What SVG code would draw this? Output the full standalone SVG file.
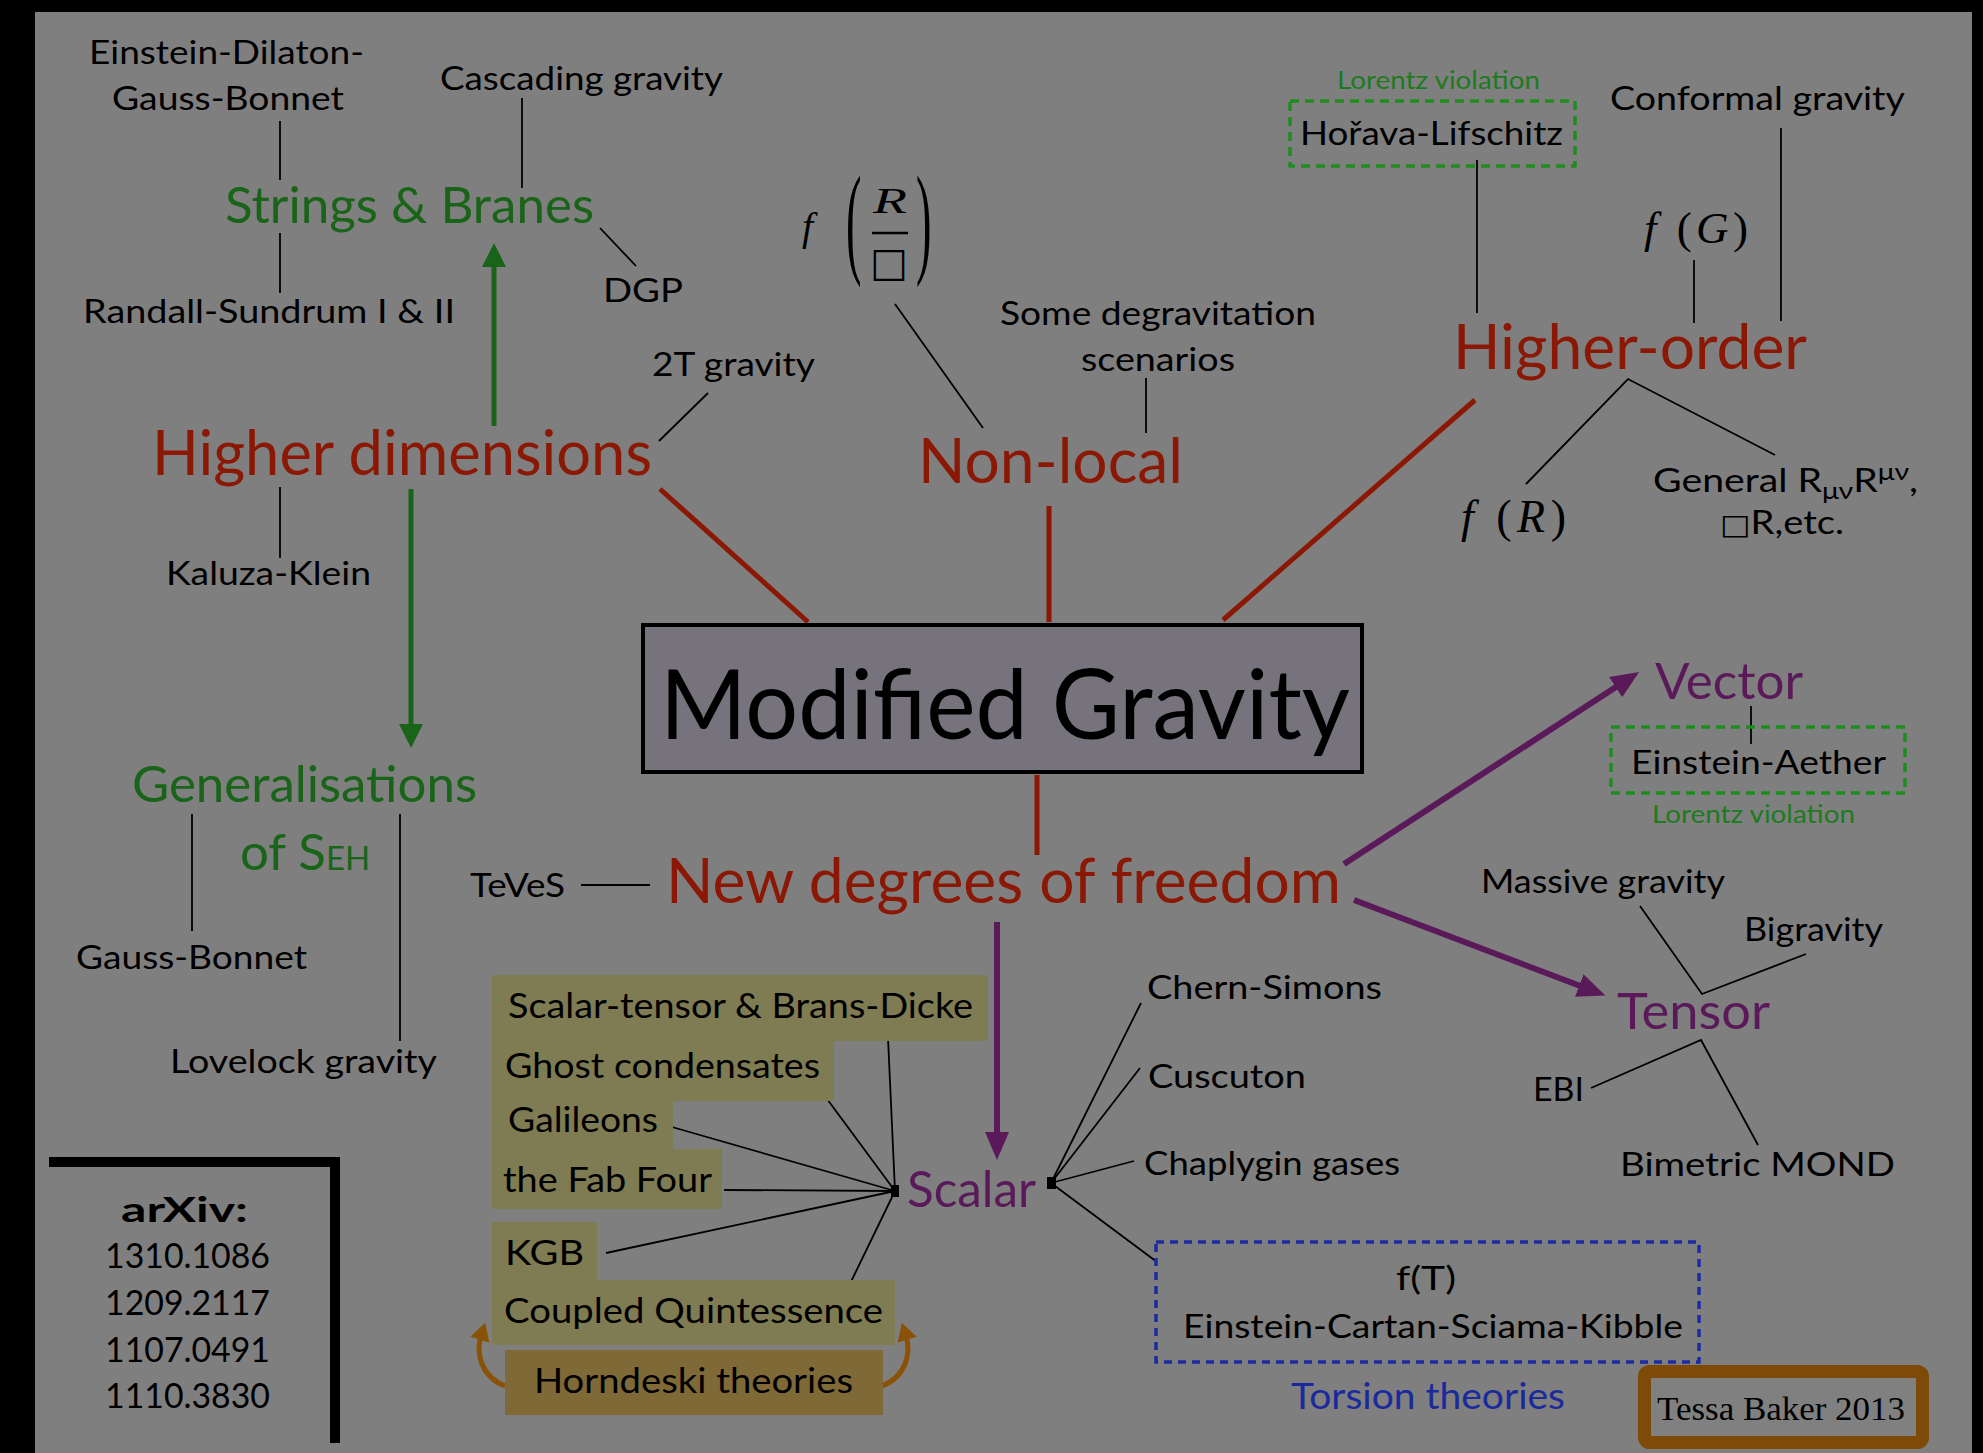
<svg xmlns="http://www.w3.org/2000/svg" width="1983" height="1453" viewBox="0 0 1983 1453">
<style>
.t{font-family:Lato,"Open Sans","DejaVu Sans",sans-serif;fill:#000;font-size:33px}
.o{font-size:35px}
.big{font-size:96px}
.bold{font-size:35px;font-weight:bold}
.red{font-family:Lato,"Open Sans",sans-serif;fill:#8a1804;font-size:61px}
.grn{font-family:Lato,"Open Sans",sans-serif;fill:#1a641a;font-size:51px}
.lv{font-family:Lato,"Open Sans",sans-serif;fill:#1e7a1e;font-size:25px}
.pur{font-family:Lato,"Open Sans",sans-serif;fill:#5a1a5a;font-size:50px}
.m{font-family:"Liberation Serif","DejaVu Serif",serif;fill:#000}
.it{font-style:italic}
.thin{stroke:#000;stroke-width:1.8;fill:none}
.rl{stroke:#8a1804;stroke-width:5;fill:none}
.gl{stroke:#1a641a;stroke-width:5;fill:none}
.pl{stroke:#5a1a5a;stroke-width:6;fill:none}
.ol{stroke:#8a5206;stroke-width:5;fill:none}
.olive{fill:#7f7b52}
.gdash{fill:none;stroke:#1e8c1e;stroke-width:3.5;stroke-dasharray:9 6}
</style>
<defs>
<marker id="ag" markerUnits="userSpaceOnUse" markerWidth="30" markerHeight="30" refX="4" refY="12" orient="auto"><path d="M0,0 L24,12 L0,24 z" fill="#1a641a"/></marker>
<marker id="ap" markerUnits="userSpaceOnUse" markerWidth="32" markerHeight="30" refX="4" refY="12" orient="auto"><path d="M0,0 L28,12 L0,24 z" fill="#5a1a5a"/></marker>
<marker id="ao" markerUnits="userSpaceOnUse" markerWidth="24" markerHeight="24" refX="4" refY="10" orient="auto"><path d="M0,0 L18,10 L0,20 z" fill="#8a5206"/></marker>
</defs>
<rect x="0" y="0" width="1983" height="1453" fill="#000"/>
<rect x="35" y="12" width="1937" height="1441" fill="#7f7f7f"/>

<g id="connectors">
<line class="thin" x1="280" y1="121" x2="280" y2="180"/>
<line class="thin" x1="522" y1="98" x2="522" y2="188"/>
<line class="thin" x1="280" y1="233" x2="280" y2="293"/>
<line class="thin" x1="600" y1="228" x2="636" y2="266"/>
<line class="thin" x1="708" y1="393" x2="659" y2="441"/>
<line class="thin" x1="280" y1="487" x2="280" y2="558"/>
<line class="thin" x1="895" y1="304" x2="983" y2="428"/>
<line class="thin" x1="1146" y1="378" x2="1146" y2="433"/>
<line class="thin" x1="1477" y1="160" x2="1477" y2="313"/>
<line class="thin" x1="1781" y1="128" x2="1781" y2="321"/>
<line class="thin" x1="1694" y1="260" x2="1694" y2="323"/>
<polyline class="thin" points="1526,484 1628,379 1775,455"/>
<line class="thin" x1="1751" y1="706" x2="1751" y2="744"/>
<polyline class="thin" points="1640,906 1702,994 1806,954"/>
<polyline class="thin" points="1591,1088 1701,1040 1758,1145"/>
<line class="thin" x1="192" y1="814" x2="192" y2="931"/>
<line class="thin" x1="400" y1="814" x2="400" y2="1041"/>
<line class="thin" x1="581" y1="885" x2="650" y2="885"/>
<line class="thin" x1="888" y1="1038" x2="895" y2="1191"/>
<line class="thin" x1="816" y1="1084" x2="895" y2="1191"/>
<line class="thin" x1="672" y1="1127" x2="895" y2="1191"/>
<line class="thin" x1="724" y1="1190" x2="895" y2="1191"/>
<line class="thin" x1="606" y1="1253" x2="895" y2="1191"/>
<line class="thin" x1="846" y1="1292" x2="895" y2="1191"/>
<line class="thin" x1="1051" y1="1183" x2="1141" y2="1003"/>
<line class="thin" x1="1051" y1="1183" x2="1140" y2="1068"/>
<line class="thin" x1="1051" y1="1183" x2="1134" y2="1161"/>
<line class="thin" x1="1051" y1="1183" x2="1157" y2="1262"/>
<rect x="891" y="1185" width="8" height="12" fill="#000"/>
<rect x="1047" y="1177" width="9" height="12" fill="#000"/>
<line class="rl" x1="660" y1="489" x2="808" y2="622"/>
<line class="rl" x1="1049" y1="506" x2="1049" y2="622"/>
<line class="rl" x1="1475" y1="400" x2="1223" y2="620"/>
<line class="rl" x1="1037" y1="775" x2="1037" y2="855"/>
<line class="gl" x1="494" y1="426" x2="494" y2="263" marker-end="url(#ag)"/>
<line class="gl" x1="411" y1="489" x2="411" y2="728" marker-end="url(#ag)"/>
<line class="pl" x1="1344" y1="864" x2="1619" y2="685" marker-end="url(#ap)"/>
<line class="pl" x1="1354" y1="900" x2="1583" y2="987" marker-end="url(#ap)"/>
<line class="pl" x1="997" y1="922" x2="997" y2="1136" marker-end="url(#ap)"/>
<path class="ol" d="M505,1386 C480,1376 476,1352 481,1336" marker-end="url(#ao)"/>
<path class="ol" d="M882,1386 C907,1376 911,1352 906,1336" marker-end="url(#ao)"/>
</g>

<g id="edgb"><text class="t" x="89" y="64" textLength="275" lengthAdjust="spacingAndGlyphs">Einstein-Dilaton-</text><text class="t" x="112" y="110" textLength="232" lengthAdjust="spacingAndGlyphs">Gauss-Bonnet</text></g>
<g id="cascading"><text class="t" x="440" y="90" textLength="283" lengthAdjust="spacingAndGlyphs">Cascading gravity</text></g>
<g id="strings"><text class="grn" x="225" y="223" textLength="369" lengthAdjust="spacingAndGlyphs">Strings &amp; Branes</text></g>
<g id="dgp"><text class="t" x="603" y="302" textLength="80" lengthAdjust="spacingAndGlyphs">DGP</text></g>
<g id="randall"><text class="t" x="83" y="323" textLength="372" lengthAdjust="spacingAndGlyphs">Randall-Sundrum I &amp; II</text></g>
<g id="twoT"><text class="t" x="652" y="376" textLength="163" lengthAdjust="spacingAndGlyphs">2T gravity</text></g>
<g id="higherdim"><text class="red" x="152" y="475" textLength="500" lengthAdjust="spacingAndGlyphs">Higher dimensions</text></g>
<g id="kaluza"><text class="t" x="166" y="585" textLength="205" lengthAdjust="spacingAndGlyphs">Kaluza-Klein</text></g>

<g id="fRbox">
<text class="m it" x="802" y="240" font-size="40">f</text>
<text class="m" transform="translate(846,261) scale(0.8,2.1)" font-size="58">(</text>
<text class="m it" x="873" y="213" font-size="36" textLength="34" lengthAdjust="spacingAndGlyphs">R</text>
<line x1="872" y1="233" x2="908" y2="233" stroke="#000" stroke-width="2.5"/>
<text x="870" y="276" font-family="DejaVu Sans,sans-serif" font-size="40">□</text>
<text class="m" transform="translate(916,261) scale(0.8,2.1)" font-size="58">)</text>
</g>
<g id="degrav"><text class="t" x="1000" y="325" textLength="316" lengthAdjust="spacingAndGlyphs">Some degravitation</text><text class="t" x="1081" y="371" textLength="154" lengthAdjust="spacingAndGlyphs">scenarios</text></g>
<g id="nonlocal"><text class="red" x="918" y="483" textLength="265" lengthAdjust="spacingAndGlyphs">Non-local</text></g>

<g id="horava">
<text class="lv" x="1337" y="89" textLength="203" lengthAdjust="spacingAndGlyphs">Lorentz violation</text>
<rect class="gdash" x="1290" y="101" width="285" height="65"/>
<text class="t" x="1300" y="145" textLength="263" lengthAdjust="spacingAndGlyphs">Hořava-Lifschitz</text>
</g>
<g id="conformal"><text class="t" x="1610" y="110" textLength="295" lengthAdjust="spacingAndGlyphs">Conformal gravity</text></g>
<g id="fG"><text class="m" x="1644" y="243" font-size="45" textLength="104" lengthAdjust="spacing"><tspan class="it">f</tspan> (<tspan class="it">G</tspan>)</text></g>
<g id="higherorder"><text class="red" x="1453" y="369" textLength="354" lengthAdjust="spacingAndGlyphs">Higher-order</text></g>
<g id="fR"><text class="m" x="1461" y="532" font-size="46" textLength="105" lengthAdjust="spacing"><tspan class="it">f</tspan> (<tspan class="it">R</tspan>)</text></g>
<g id="general">
<text class="t" x="1653" y="492" textLength="265" lengthAdjust="spacingAndGlyphs">General R<tspan font-size="24" dy="7">μν</tspan><tspan dy="-7">R</tspan><tspan font-size="24" dy="-12">μν</tspan><tspan dy="12">,</tspan></text>
<text class="t" x="1720" y="534" textLength="124" lengthAdjust="spacingAndGlyphs"><tspan font-family="DejaVu Sans,sans-serif" font-size="28">□</tspan>R,etc.</text>
</g>

<g id="modgrav">
<rect x="643" y="625" width="719" height="147" fill="#77737d" stroke="#000" stroke-width="4"/>
<text class="t big" x="660" y="739" textLength="690" lengthAdjust="spacingAndGlyphs">Modified Gravity</text>
</g>
<g id="newdof"><text class="red" x="666" y="903" textLength="675" lengthAdjust="spacingAndGlyphs">New degrees of freedom</text></g>
<g id="teves"><text class="t" x="470" y="897" textLength="95" lengthAdjust="spacingAndGlyphs">TeVeS</text></g>

<g id="generalisations">
<text class="grn" x="132" y="802" textLength="345" lengthAdjust="spacingAndGlyphs">Generalisations</text>
<text class="grn" x="240" y="870">of S<tspan font-size="33">EH</tspan></text>
</g>
<g id="gaussbonnet"><text class="t" x="76" y="969" textLength="231" lengthAdjust="spacingAndGlyphs">Gauss-Bonnet</text></g>
<g id="lovelock"><text class="t" x="170" y="1073" textLength="267" lengthAdjust="spacingAndGlyphs">Lovelock gravity</text></g>

<g id="vector">
<text class="pur" x="1655" y="699" textLength="148" lengthAdjust="spacingAndGlyphs">Vector</text>
</g>
<g id="aether">
<rect class="gdash" x="1611" y="727" width="294" height="66"/>
<text class="t" x="1631" y="774" textLength="255" lengthAdjust="spacingAndGlyphs">Einstein-Aether</text>
<text class="lv" x="1652" y="823" textLength="203" lengthAdjust="spacingAndGlyphs">Lorentz violation</text>
</g>
<g id="massive"><text class="t" x="1481" y="893" textLength="244" lengthAdjust="spacingAndGlyphs">Massive gravity</text></g>
<g id="bigravity"><text class="t" x="1744" y="941" textLength="139" lengthAdjust="spacingAndGlyphs">Bigravity</text></g>
<g id="tensor"><text class="pur" x="1617" y="1029" textLength="153" lengthAdjust="spacingAndGlyphs">Tensor</text></g>
<g id="ebi"><text class="t" x="1533" y="1101" textLength="51" lengthAdjust="spacingAndGlyphs">EBI</text></g>
<g id="mond"><text class="t" x="1620" y="1176" textLength="275" lengthAdjust="spacingAndGlyphs">Bimetric MOND</text></g>

<g id="scalar"><text class="pur" x="907" y="1207" textLength="129" lengthAdjust="spacingAndGlyphs">Scalar</text></g>
<g id="scalartensor"><rect class="olive" x="492" y="975" width="496" height="66"/><text class="t o" x="508" y="1018" textLength="465" lengthAdjust="spacingAndGlyphs">Scalar-tensor &amp; Brans-Dicke</text></g>
<g id="ghost"><rect class="olive" x="492" y="1040" width="342" height="61"/><text class="t o" x="505" y="1078" textLength="315" lengthAdjust="spacingAndGlyphs">Ghost condensates</text></g>
<g id="galileons"><rect class="olive" x="492" y="1100" width="181" height="50"/><text class="t o" x="508" y="1132" textLength="150" lengthAdjust="spacingAndGlyphs">Galileons</text></g>
<g id="fabfour"><rect class="olive" x="492" y="1149" width="230" height="60"/><text class="t o" x="503" y="1192" textLength="209" lengthAdjust="spacingAndGlyphs">the Fab Four</text></g>
<g id="kgb"><rect class="olive" x="492" y="1222" width="105" height="59"/><text class="t o" x="505" y="1265" textLength="79" lengthAdjust="spacingAndGlyphs">KGB</text></g>
<g id="coupled"><rect class="olive" x="492" y="1280" width="403" height="65"/><text class="t o" x="504" y="1323" textLength="379" lengthAdjust="spacingAndGlyphs">Coupled Quintessence</text></g>
<g id="horndeski"><rect x="505" y="1350" width="378" height="65" fill="#7f6937"/><text class="t o" x="534" y="1393" textLength="319" lengthAdjust="spacingAndGlyphs">Horndeski theories</text></g>

<g id="chern"><text class="t" x="1147" y="999" textLength="235" lengthAdjust="spacingAndGlyphs">Chern-Simons</text></g>
<g id="cuscuton"><text class="t" x="1148" y="1088" textLength="158" lengthAdjust="spacingAndGlyphs">Cuscuton</text></g>
<g id="chaplygin"><text class="t" x="1144" y="1175" textLength="256" lengthAdjust="spacingAndGlyphs">Chaplygin gases</text></g>
<g id="torsion">
<rect x="1156" y="1242" width="543" height="120" fill="none" stroke="#1c2ca0" stroke-width="3.5" stroke-dasharray="8 6"/>
<text class="t" x="1396" y="1290" textLength="60" lengthAdjust="spacingAndGlyphs">f(T)</text>
<text class="t" x="1183" y="1338" textLength="500" lengthAdjust="spacingAndGlyphs">Einstein-Cartan-Sciama-Kibble</text>
<text x="1291" y="1409" font-family="Lato,'Open Sans',sans-serif" font-size="37" fill="#1a2a9c" textLength="274" lengthAdjust="spacingAndGlyphs">Torsion theories</text>
</g>

<g id="arxiv">
<path d="M49,1162 H335 V1443" fill="none" stroke="#000" stroke-width="10"/>
<text class="t bold" x="121" y="1222" textLength="127" lengthAdjust="spacingAndGlyphs">arXiv:</text>
<text class="t o" x="105" y="1268" textLength="165" lengthAdjust="spacingAndGlyphs">1310.1086</text>
<text class="t o" x="105" y="1315" textLength="165" lengthAdjust="spacingAndGlyphs">1209.2117</text>
<text class="t o" x="105" y="1362" textLength="165" lengthAdjust="spacingAndGlyphs">1107.0491</text>
<text class="t o" x="105" y="1408" textLength="165" lengthAdjust="spacingAndGlyphs">1110.3830</text>
</g>
<g id="credit">
<rect x="1644.5" y="1371.5" width="278" height="71" rx="5" fill="#808080" stroke="#7e4a08" stroke-width="13"/>
<text class="m" x="1657" y="1420" font-size="33" textLength="248" lengthAdjust="spacingAndGlyphs">Tessa Baker 2013</text>
</g>
</svg>
